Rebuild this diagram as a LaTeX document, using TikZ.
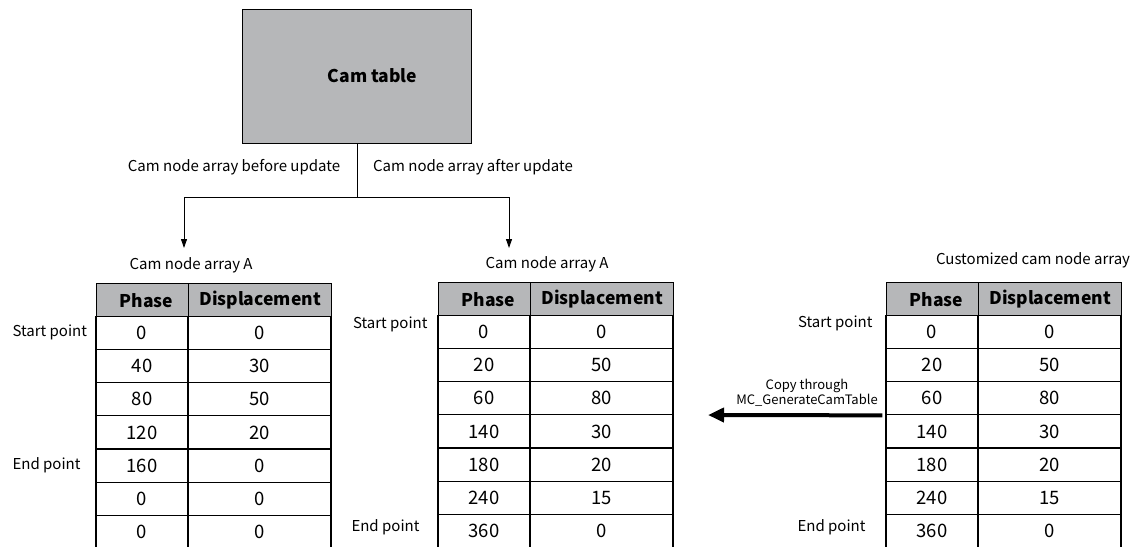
\documentclass[tikz,border=0pt]{standalone}
\usepackage{fontspec}
\setmainfont{Noto Sans CJK SC}
\usetikzlibrary{positioning,arrows.meta}
\definecolor{headgray}{RGB}{182,183,185}

\begin{document}
\begin{tikzpicture}[x=1pt, y=-1pt,
  cell/.style={draw, line width=1.1pt, minimum height=33.2pt, inner sep=0pt,
    font=\fontsize{18.5}{18.5}\selectfont},
  phasecell/.style={cell, minimum width=92pt},
  dispcell/.style={cell, minimum width=143pt},
  head/.style={fill=headgray, font=\fontsize{17.5}{17.5}\selectfont\bfseries},
  caption/.style={font=\fontsize{15}{15}\selectfont},
  small caption/.style={font=\fontsize{13}{13}\selectfont, align=center},
  link/.style={line width=0.9pt, -{Triangle[length=9pt,width=6pt]}},
  copy arrow/.style={line width=4pt, -{Triangle[length=16pt,width=14pt]}},
  camtable/.style={draw, line width=0.9pt, fill=headgray, minimum width=229pt,
    minimum height=134pt, font=\fontsize{17.5}{17.5}\selectfont\bfseries}
]
  \useasboundingbox (0,0) rectangle (1147,546);

  % Cam table block at the top
  \node[camtable] (cam) at (356.5,76) {\hspace{32pt}Cam table};

  % Split point and the two drop ends
  \coordinate (split) at (357,197);
  \coordinate (dropA) at (184,248);
  \coordinate (dropB) at (509,248);
  \draw[line width=0.9pt] (cam.south -| split) -- (split);
  \draw[link] (split) -| (dropA);
  \draw[link] (split) -| (dropB);

  \node[caption] (before) at (234,167) {Cam node array before update};
  \node[caption] (after) at (473,167) {Cam node array after update};

  % Table A before update
  \begin{scope}[shift={(96,283)}]
    \node[phasecell, head, anchor=north west] (a0p) at (0,0) {\hspace{8pt}Phase};
    \node[dispcell, head, anchor=north west] (a0d) at (92,0) {Displacement};
    \foreach \ph/\dp [count=\r] in {0/0,40/30,80/50,120/20,160/0,0/0,0/0}
      \node[phasecell] (a\r p) at (46,{16.6+33.2*\r}) {\ph}
        node[dispcell] (a\r d) at (163.5,{16.6+33.2*\r}) {\dp};
  \end{scope}
  \node[caption, above=6pt of a0p.north east, xshift=2pt] (titleA) {Cam node array A};
  \node[caption, anchor=west] (startA) at (9,332) {Start point};
  \node[caption, anchor=west] (endA) at (9,465) {End point};

  % Table A after update
  \begin{scope}[shift={(438,282)}]
    \node[phasecell, head, anchor=north west] (b0p) at (0,0) {\hspace{8pt}Phase};
    \node[dispcell, head, anchor=north west] (b0d) at (92,0) {Displacement};
    \foreach \ph/\dp [count=\r] in {0/0,20/50,60/80,140/30,180/20,240/15,360/0}
      \node[phasecell] (b\r p) at (46,{16.6+33.2*\r}) {\ph}
        node[dispcell] (b\r d) at (163.5,{16.6+33.2*\r}) {\dp};
  \end{scope}
  \node[caption, above=6pt of b0p.north east, xshift=16pt] (titleB) {Cam node array A};
  \node[caption, anchor=east] (startB) at (431,324) {Start point};
  \node[caption, anchor=east] (endB) at (423,527) {End point};

  % Customized cam node array
  \begin{scope}[shift={(886,282)}]
    \node[phasecell, head, anchor=north west] (c0p) at (0,0) {\hspace{8pt}Phase};
    \node[dispcell, head, anchor=north west] (c0d) at (92,0) {Displacement};
    \foreach \ph/\dp [count=\r] in {0/0,20/50,60/80,140/30,180/20,240/15,360/0}
      \node[phasecell] (c\r p) at (46,{16.6+33.2*\r}) {\ph}
        node[dispcell] (c\r d) at (163.5,{16.6+33.2*\r}) {\dp};
  \end{scope}
  \node[caption] (titleC) at (1033,260) {Customized cam node array};
  \node[caption, anchor=east] (startC) at (876,323) {Start point};
  \node[caption, anchor=east] (endC) at (869,527) {End point};

  % Copy arrow into the updated array
  \coordinate (copyend) at (708,415);
  \draw[copy arrow] ([xshift=-3pt]c3p.south west) -- (copyend);
  \node[small caption] (copylabel) at (807,393) {Copy through\\MC\_GenerateCamTable};

\end{tikzpicture}
\end{document}
